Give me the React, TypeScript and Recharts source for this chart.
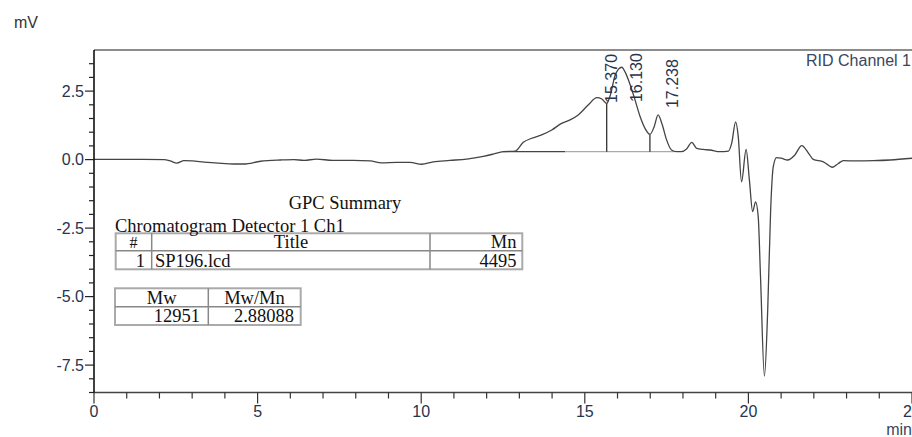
import React from 'react';
import { ComposedChart, Line, Scatter, XAxis, YAxis, ReferenceLine } from 'recharts';

// retention time (min) and detector signal (mV)
const traceTime = [
  0, 0.5, 1.0, 1.5, 2.14, 2.35, 2.53, 2.75, 3.0, 3.36,
  3.8, 4.28, 4.58, 5.09, 5.7, 6.11, 6.42, 6.8, 7.3, 7.92,
  8.44, 8.79, 9.25, 9.66, 10.01, 10.37, 10.88, 11.39, 11.9, 12.2,
  12.51, 12.87, 13.12, 13.38, 13.68, 13.99, 14.29, 14.55, 14.8, 15.11,
  15.37, 15.52, 15.67, 15.78, 15.92, 16.03, 16.13, 16.23, 16.38, 16.53,
  16.69, 16.84, 16.99, 17.12, 17.24, 17.36, 17.5, 17.65, 17.8, 17.95,
  18.11, 18.27, 18.42, 18.62, 18.83, 19.13, 19.39, 19.49, 19.61, 19.69,
  19.79, 19.93, 20.03, 20.13, 20.22, 20.3, 20.37, 20.49, 20.59, 20.68,
  20.76, 20.86, 21.0, 21.2, 21.42, 21.63, 21.84, 21.98, 22.29, 22.57,
  22.75, 22.9, 23.31, 23.82, 24.33, 25.0,
];
const traceMv = [
  0.01, 0.01, 0.01, 0.01, 0.0, -0.06, -0.13, -0.04, -0.05, -0.09,
  -0.13, -0.16, -0.16, -0.06, -0.015, 0.0, -0.03, 0.02, -0.03, -0.03,
  -0.05, -0.12, -0.1, -0.1, -0.17, -0.08, -0.03, 0.02, 0.12, 0.2,
  0.29, 0.31, 0.63, 0.78, 0.9, 1.08, 1.32, 1.45, 1.63, 2.0,
  2.26, 2.21, 2.05, 2.35, 3.05, 3.3, 3.37, 3.2, 2.75, 2.2,
  1.57, 1.14, 0.92, 1.2, 1.63, 1.3, 0.72, 0.35, 0.29, 0.29,
  0.39, 0.63, 0.41, 0.37, 0.35, 0.29, 0.31, 0.6, 1.38, 0.84,
  -0.81, 0.37, -0.74, -1.9, -1.54, -2.08, -4.27, -7.9, -5.49, -1.84,
  -0.26, 0.07, 0.05, -0.015, 0.17, 0.51, 0.23, 0.01, -0.08, -0.28,
  -0.14, -0.04, -0.05, -0.04, -0.015, 0.05,
];

// peak tops and where their labels sit
const peakNames = ['15.370', '16.130', '17.238'];
const peakTimes = [15.37, 16.13, 17.238];
const peakLabelMv = [2.07, 2.1, 1.88];

// integration baseline and drop lines
const baseStart = 12.5;
const baseSplit = 14.4;
const baseEnd = 17.75;
const baseMv = 0.29;
const dropTimes = [15.67, 16.99];
const dropTopMv = [2.05, 0.92];

const xTicks = [0, 1, 2, 3, 4, 5, 6, 7, 8, 9, 10, 11, 12, 13, 14, 15, 16, 17, 18, 19, 20, 21, 22, 23, 24, 25];
const xMajor = [0, 5, 10, 15, 20, 25];
const yTicks = [-8.5, -8, -7.5, -7, -6.5, -6, -5.5, -5, -4.5, -4, -3.5, -3, -2.5, -2, -1.5, -1, -0.5, 0, 0.5, 1, 1.5, 2, 2.5, 3, 3.5];
const yMajor = [-7.5, -5, -2.5, 0, 2.5];

const trace = traceTime.map((t, i) => ({ t, mv: traceMv[i] }));
const peaks = peakTimes.map((t, i) => ({ t, mv: peakLabelMv[i], name: peakNames[i] }));

const sans = '"Liberation Sans", Arial, sans-serif';
const serif = '"Liberation Serif", "Times New Roman", serif';
const labelColor = '#26344f';

const XTick = (props: any) => {
  const { x, y, payload } = props;
  const major = xMajor.includes(payload.value);
  return (
    <g>
      <line x1={x} x2={x} y1={y} y2={y + (major ? 11 : 6)} stroke="#333" strokeWidth={1.2} />
      {major && (
        <text x={x} y={y + 24.5} textAnchor="middle" fontSize={16} fontFamily={sans} fill={labelColor}>
          {payload.value}
        </text>
      )}
    </g>
  );
};

const YTick = (props: any) => {
  const { x, y, payload } = props;
  const major = yMajor.includes(payload.value);
  return (
    <g>
      <line x1={x - (major ? 9 : 5)} x2={x} y1={y} y2={y} stroke="#222" strokeWidth={1.2} />
      {major && (
        <text x={x - 10} y={y} dy="0.36em" textAnchor="end" fontSize={16} fontFamily={sans} fill={labelColor}>
          {payload.value.toFixed(1)}
        </text>
      )}
    </g>
  );
};

const PeakLabel = (props: any) => {
  const { cx, cy, payload } = props;
  const px = cx + 20;
  return (
    <text
      x={px}
      y={cy}
      transform={`rotate(-90 ${px} ${cy})`}
      fontSize={16}
      fontFamily={sans}
      fill={labelColor}
    >
      {payload.name}
    </text>
  );
};

const SummaryTables = () => (
  <svg
    width={912}
    height={437}
    style={{ position: 'absolute', left: 0, top: 0, pointerEvents: 'none' }}
  >
    <g fontFamily={serif} fontSize={18.5} fill="#111">
      <text x={345} y={209} textAnchor="middle">GPC Summary</text>

      <rect x={115.7} y={233.3} width={406.6} height={36} fill="none" stroke="#aaa" strokeWidth={2} />
      <line x1={115.7} x2={522.3} y1={250.7} y2={250.7} stroke="#888" strokeWidth={1.5} />
      <line x1={151.7} x2={151.7} y1={233.3} y2={269.3} stroke="#888" strokeWidth={1.5} />
      <line x1={430} x2={430} y1={233.3} y2={269.3} stroke="#888" strokeWidth={1.5} />
      <text x={115} y={231.5}>Chromatogram Detector 1 Ch1</text>
      <text x={133.5} y={247.5} textAnchor="middle" fontSize={16}>#</text>
      <text x={291} y={247.5} textAnchor="middle">Title</text>
      <text x={516.5} y={247.5} textAnchor="end">Mn</text>
      <text x={145} y={267} textAnchor="end">1</text>
      <text x={155} y={267}>SP196.lcd</text>
      <text x={516.5} y={267} textAnchor="end">4495</text>

      <rect x={115} y={288.3} width={185.7} height={36.7} fill="none" stroke="#aaa" strokeWidth={2} />
      <line x1={115} x2={300.7} y1={306.7} y2={306.7} stroke="#888" strokeWidth={1.5} />
      <line x1={208.3} x2={208.3} y1={288.3} y2={325} stroke="#888" strokeWidth={1.5} />
      <text x={161.7} y={304} textAnchor="middle">Mw</text>
      <text x={254.5} y={304} textAnchor="middle">Mw/Mn</text>
      <text x={200} y={321.7} textAnchor="end">12951</text>
      <text x={294} y={321.7} textAnchor="end">2.88088</text>
    </g>
    <g fontFamily={sans} fontSize={16}>
      <text x={14} y={28} fill="#333">mV</text>
      <text x={911} y={66} textAnchor="end" fill="#3a4660">RID Channel 1</text>
      <text x={912} y={435} textAnchor="end" fill="#3a4660">min</text>
    </g>
  </svg>
);

const App: React.FC = () => {
  return (
    <div style={{ position: 'absolute', left: 0, top: 0, width: 912, height: 437, background: '#fff' }}>
      <ComposedChart width={912} height={437} margin={{ top: 50, right: 0, bottom: 14.5, left: 34 }}>
        <XAxis
          dataKey="t"
          type="number"
          domain={[0, 25]}
          ticks={xTicks}
          interval={0}
          tickSize={0}
          tickMargin={0}
          tickLine={false}
          tick={<XTick />}
          height={30}
          axisLine={{ stroke: '#444', strokeWidth: 1.5 }}
          allowDataOverflow
        />
        <YAxis
          type="number"
          domain={[-8.5, 4]}
          ticks={yTicks}
          interval={0}
          tickSize={0}
          tickMargin={0}
          tickLine={false}
          tick={<YTick />}
          width={60}
          axisLine={{ stroke: '#000', strokeWidth: 1.5 }}
          allowDataOverflow
        />
        <ReferenceLine y={4} stroke="#666" strokeWidth={1.5} />
        <ReferenceLine
          segment={[{ x: baseStart, y: baseMv }, { x: baseSplit, y: baseMv }]}
          stroke="#444"
          strokeWidth={1.2}
        />
        <ReferenceLine
          segment={[{ x: baseSplit, y: baseMv }, { x: baseEnd, y: baseMv }]}
          stroke="#aaa"
          strokeWidth={1.2}
        />
        {dropTimes.map((t, i) => (
          <ReferenceLine
            key={t}
            segment={[{ x: t, y: baseMv }, { x: t, y: dropTopMv[i] }]}
            stroke="#222"
            strokeWidth={1.2}
          />
        ))}
        <Line
          data={trace}
          dataKey="mv"
          type="monotone"
          stroke="#444"
          strokeWidth={1.3}
          dot={false}
          isAnimationActive={false}
        />
        <Scatter data={peaks} dataKey="mv" shape={<PeakLabel />} isAnimationActive={false} />
      </ComposedChart>
      <SummaryTables />
    </div>
  );
};

export default App;
